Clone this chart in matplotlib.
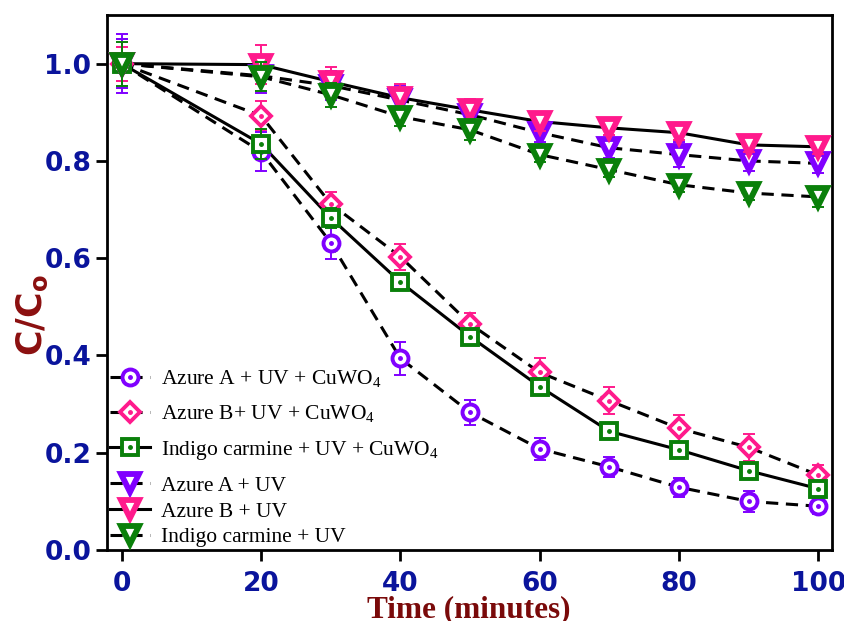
import matplotlib
matplotlib.use("Agg")
import matplotlib.pyplot as plt
from matplotlib.legend_handler import HandlerTuple

time = [0, 20, 30, 40, 50, 60, 70, 80, 90, 100]

azA_cu = [1.0, 0.819, 0.632, 0.394, 0.283, 0.208, 0.171, 0.129, 0.100, 0.090]
azB_cu = [1.0, 0.893, 0.712, 0.603, 0.465, 0.365, 0.307, 0.250, 0.211, 0.154]
ic_cu = [1.0, 0.835, 0.683, 0.551, 0.439, 0.336, 0.244, 0.206, 0.163, 0.126]
azA_uv = [1.0, 0.975, 0.955, 0.925, 0.895, 0.858, 0.827, 0.813, 0.800, 0.795]
azB_uv = [1.0, 0.998, 0.963, 0.930, 0.905, 0.881, 0.868, 0.858, 0.833, 0.829]
ic_uv = [1.0, 0.973, 0.936, 0.891, 0.864, 0.813, 0.782, 0.751, 0.734, 0.726]

err_azA_cu = [0.06, 0.04, 0.033, 0.034, 0.025, 0.022, 0.02, 0.02, 0.022, 0.015]
err_azB_cu = [0.035, 0.03, 0.025, 0.027, 0.022, 0.03, 0.028, 0.028, 0.028, 0.02]
err_ic_cu = [0.05, 0.03, 0.02, 0.015, 0.015, 0.015, 0.015, 0.015, 0.015, 0.015]
err_azA_uv = [0.05, 0.035, 0.03, 0.03, 0.025, 0.02, 0.02, 0.025, 0.02, 0.02]
err_azB_uv = [0.035, 0.04, 0.03, 0.029, 0.023, 0.02, 0.015, 0.015, 0.015, 0.015]
err_ic_uv = [0.045, 0.03, 0.025, 0.02, 0.02, 0.015, 0.015, 0.015, 0.015, 0.02]

labels = [
    r"Azure A + UV + CuWO$_\mathregular{4}$",
    r"Azure B+ UV + CuWO$_\mathregular{4}$",
    r"Indigo carmine + UV + CuWO$_\mathregular{4}$",
    "Azure A + UV",
    "Azure B + UV",
    "Indigo carmine + UV",
]

PURPLE = "#8000ff"
PINK = "#ff1a8c"
GREEN = "#0a800a"
DASH = (0, (4, 2.5))

series = [
    (azA_cu, err_azA_cu, PURPLE, "o", 11.5, DASH, True),
    (azB_cu, err_azB_cu, PINK, "D", 10.5, DASH, True),
    (ic_cu, err_ic_cu, GREEN, "s", 11, "-", True),
    (azA_uv, err_azA_uv, PURPLE, "v", 12.5, DASH, False),
    (azB_uv, err_azB_uv, PINK, "v", 12.5, "-", False),
    (ic_uv, err_ic_uv, GREEN, "v", 12.5, DASH, False),
]

fig = plt.figure(figsize=(8.44, 6.21), dpi=100)
ax = fig.add_axes([0.1264, 0.1143, 0.8590, 0.8615])

handles = []
for i, (vals, errs, col, mk, ms, ls, dot) in enumerate(series):
    z = 3 + i
    ax.plot(time, vals, color="black", lw=2.2, ls=ls, zorder=2)
    ax.errorbar(time, vals, yerr=errs, fmt="none", ecolor=col,
                elinewidth=1.4, capsize=4.5, capthick=1.4, zorder=z)
    mew = 2.8 if dot else 4.2
    ax.plot(time, vals, ls="none", marker=mk, ms=ms, mec=col, mfc="white",
            mew=mew, zorder=z + 0.1)
    h = plt.Line2D([], [], color="black", lw=2.2, ls=ls, marker=mk, ms=ms,
                   mec=col, mfc="white", mew=mew)
    if dot:
        ax.plot(time, vals, ls="none", marker="o", ms=2.5, mec=col, mfc=col,
                zorder=z + 0.2)
        hd = plt.Line2D([], [], ls="none", marker="o", ms=2.5, mec=col, mfc=col)
        handles.append((h, hd))
    else:
        handles.append(h)

ax.set_xlim(-2.15, 101.9)
ax.set_ylim(0.0, 1.10)
ax.set_xticks([0, 20, 40, 60, 80, 100])
ax.set_yticks([0.0, 0.2, 0.4, 0.6, 0.8, 1.0])
ax.set_yticklabels(["0.0", "0.2", "0.4", "0.6", "0.8", "1.0"])

for sp in ax.spines.values():
    sp.set_linewidth(2.0)

TICKBLUE = "#0a149c"
ax.tick_params(axis="both", direction="out", width=2.0, length=8,
               labelcolor=TICKBLUE, labelsize=19)
ax.tick_params(axis="x", pad=7)
ax.tick_params(axis="y", pad=3)
for lab in ax.get_xticklabels() + ax.get_yticklabels():
    lab.set_fontweight("bold")
    lab.set_family("DejaVu Sans")

ax.set_xlabel("Time (minutes)", family="Liberation Serif", fontweight="bold",
              fontsize=22.5, color="#7a0a0a", labelpad=-1)

fig.text(0.038, 0.493, r"C/C$_\mathregular{o}$", rotation=90, ha="center",
         va="center", fontsize=25, fontweight="bold", color="#8b0f0f",
         family="DejaVu Sans")

legkw = dict(frameon=False, prop={"family": "Liberation Serif", "size": 15.5},
             handlelength=1.9, handletextpad=0.5, borderpad=0.0,
             borderaxespad=0.0, handler_map={tuple: HandlerTuple(ndivide=1)})

leg1 = ax.legend(handles[:3], labels[:3], loc="upper left",
                 bbox_to_anchor=(0.004, 0.339), labelspacing=0.62, **legkw)
ax.add_artist(leg1)
leg2 = ax.legend(handles[3:], labels[3:], loc="lower left",
                 bbox_to_anchor=(0.004, 0.005), labelspacing=0.26, **legkw)

fig.savefig("out.png", dpi=100)
